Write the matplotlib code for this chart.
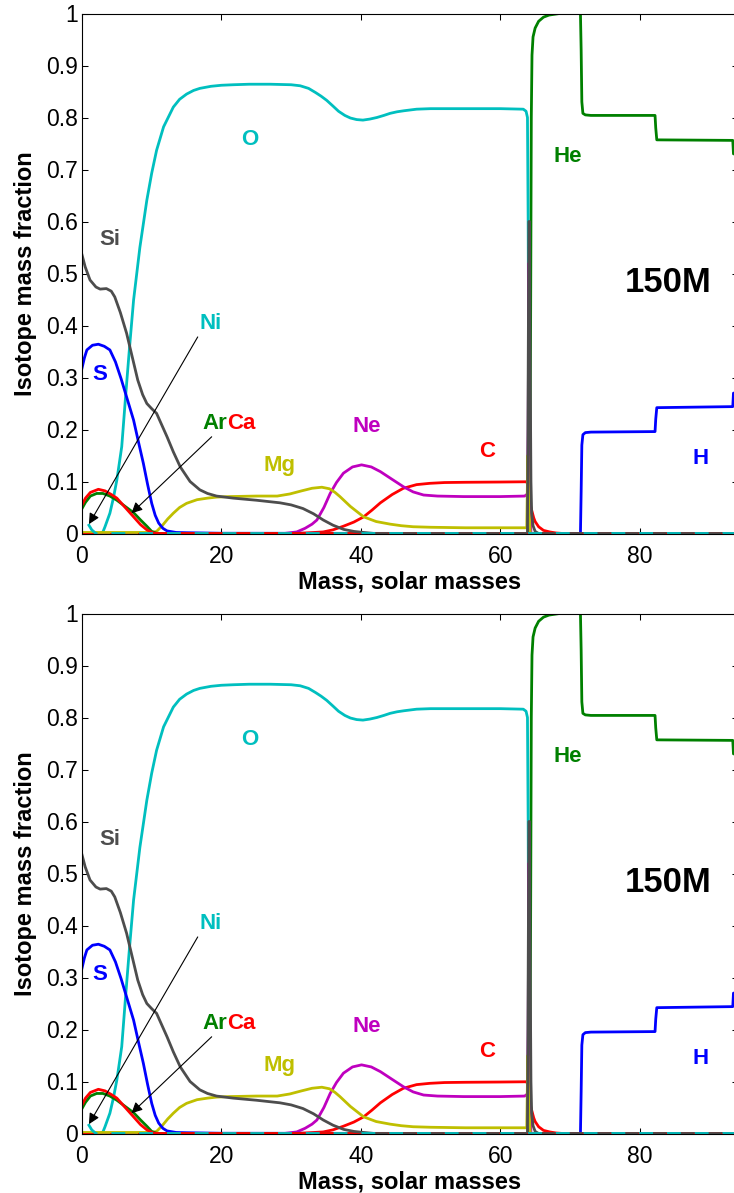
import matplotlib
matplotlib.use("Agg")
import matplotlib.pyplot as plt

plt.rcParams["font.family"] = ["Liberation Sans", "DejaVu Sans"]

# ---- composition profiles (mass coordinate in solar masses, mass fraction) ----
o_x = [0, 2.5, 3.0, 3.3, 4.0, 4.5, 5.0, 5.7, 6.25, 6.8, 7.4, 8.3, 9.3, 10.0, 10.7, 11.7,
       13.1, 14.0, 15.0, 16.0, 16.9, 18.5, 20.0, 21.7, 24.0, 27.0, 30.0, 31.3, 32.5, 33.5,
       34.3, 35.1, 36.0, 36.8, 37.7, 38.5, 39.4, 40.3, 41.3, 42.3, 43.3, 44.2, 45.2, 46.2,
       48.0, 50.0, 55.0, 60.0, 63.3, 63.7, 63.9, 64.0, 64.1, 64.2, 64.3, 94.1]
o_y = [0, 0, 0.003, 0.013, 0.039, 0.068, 0.103, 0.167, 0.263, 0.355, 0.449, 0.55, 0.641,
       0.693, 0.737, 0.782, 0.82, 0.835, 0.845, 0.852, 0.856, 0.860, 0.862, 0.863, 0.864,
       0.864, 0.863, 0.861, 0.856, 0.848, 0.841, 0.833, 0.822, 0.812, 0.804, 0.799, 0.796,
       0.795, 0.797, 0.800, 0.804, 0.808, 0.811, 0.813, 0.816, 0.817, 0.817, 0.817, 0.816,
       0.812, 0.80, 0.60, 0.25, 0.05, 0.0, 0.0]

he_x = [0, 64.2, 64.35, 64.45, 64.55, 64.7, 65.0, 65.5, 66.2, 67.0, 68.5, 71.5, 71.6,
        71.7, 71.85, 72.2, 73.0, 82.2, 82.3, 82.45, 93.35, 93.45, 94.1]
he_y = [0, 0, 0.4, 0.8, 0.92, 0.955, 0.972, 0.985, 0.993, 0.997, 1.0, 1.0, 0.93, 0.83,
        0.808, 0.805, 0.804, 0.804, 0.78, 0.757, 0.756, 0.73, 0.73]

h_x = [0, 71.5, 71.6, 71.7, 71.85, 72.2, 73.0, 82.2, 82.3, 82.45, 93.35, 93.45, 94.1]
h_y = [0, 0, 0.08, 0.17, 0.19, 0.194, 0.195, 0.196, 0.22, 0.242, 0.244, 0.27, 0.27]

c_x = [0, 30.0, 32.0, 34.6, 36.0, 37.5, 39.0, 40.4, 41.6, 42.8, 44.5, 46.1, 48.0, 49.9,
       52.0, 55.0, 60.0, 63.8, 64.0, 64.15, 64.3, 64.5, 64.8, 65.0, 65.5, 66.2, 67.1, 68.0,
       69.0, 94.1]
c_y = [0, 0, 0.001, 0.003, 0.007, 0.014, 0.022, 0.032, 0.045, 0.059, 0.075, 0.087, 0.094,
       0.0965, 0.098, 0.0985, 0.099, 0.0995, 0.09, 0.07, 0.055, 0.045, 0.03, 0.023, 0.013,
       0.006, 0.003, 0.001, 0, 0]

ne_x = [0, 29.0, 30.8, 32.0, 33.0, 33.7, 34.7, 35.6, 36.5, 37.5, 38.8, 40.1, 41.5, 42.8,
        44.5, 46.1, 47.5, 49.0, 51.0, 54.7, 60.0, 63.5, 63.9, 64.0, 64.1, 64.2, 64.3, 64.4,
        94.1]
ne_y = [0, 0, 0.003, 0.01, 0.018, 0.026, 0.05, 0.077, 0.098, 0.116, 0.128, 0.132, 0.128,
        0.119, 0.104, 0.09, 0.08, 0.074, 0.072, 0.071, 0.071, 0.072, 0.076, 0.2, 0.52, 0.3,
        0.05, 0, 0]

mg_x = [0, 10.0, 10.7, 11.5, 12.3, 13.1, 14.0, 15.0, 16.5, 18.0, 19.3, 21.2, 25.0, 28.0,
        29.8, 31.5, 33.0, 34.4, 35.5, 36.3, 37.0, 38.5, 40.4, 42.2, 44.2, 45.8, 47.5, 50.0,
        55.0, 63.8, 63.95, 64.1, 64.3, 94.1]
mg_y = [0.002, 0.002, 0.004, 0.015, 0.028, 0.039, 0.05, 0.058, 0.065, 0.068, 0.070, 0.071,
        0.072, 0.072, 0.076, 0.082, 0.087, 0.089, 0.086, 0.079, 0.071, 0.052, 0.032, 0.023,
        0.018, 0.015, 0.013, 0.012, 0.011, 0.011, 0.15, 0.05, 0, 0]

si_x = [0, 0.45, 1.15, 2.0, 2.6, 3.5, 4.2, 4.7, 5.5, 6.4, 7.2, 8.0, 8.7, 9.3, 10.0, 10.7,
        11.4, 12.2, 13.1, 14.1, 15.5, 16.9, 18.0, 19.3, 21.7, 25.0, 28.4, 30.0, 31.7, 33.2,
        34.6, 36.0, 37.5, 39.0, 40.4, 42.0, 63.9, 64.0, 64.1, 64.2, 64.3, 64.4, 64.5, 64.7,
        65.0, 65.5, 94.1]
si_y = [0.536, 0.513, 0.4875, 0.474, 0.470, 0.471, 0.466, 0.455, 0.425, 0.385, 0.34, 0.295,
        0.267, 0.25, 0.24, 0.231, 0.21, 0.186, 0.157, 0.128, 0.10, 0.084, 0.077, 0.072,
        0.068, 0.064, 0.059, 0.055, 0.048, 0.038, 0.026, 0.016, 0.008, 0.004, 0.002, 0, 0,
        0.3, 0.6, 0.6, 0.3, 0.1, 0.04, 0.015, 0.004, 0, 0]

s_x = [0, 0.35, 0.7, 1.5, 2.35, 3.2, 4.0, 4.8, 5.6, 6.5, 7.4, 8.1, 8.8, 9.4, 10.0, 10.5,
       11.0, 11.6, 12.2, 13.5, 15.0, 20.0, 64.0, 94.1]
s_y = [0.318, 0.338, 0.353, 0.362, 0.364, 0.360, 0.353, 0.33, 0.298, 0.258, 0.218, 0.176,
       0.135, 0.095, 0.058, 0.035, 0.02, 0.01, 0.005, 0.002, 0.0015, 0.0005, 0, 0]

ar_x = [0, 0.5, 1.2, 2.1, 3.0, 4.0, 5.0, 6.2, 7.4, 8.4, 9.3, 10.0, 10.8, 94.1]
ar_y = [0.048, 0.06, 0.072, 0.077, 0.077, 0.072, 0.064, 0.052, 0.040, 0.026, 0.014, 0.004,
        0, 0]

ca_x = [0, 0.5, 1.2, 2.35, 3.3, 4.2, 5.0, 6.2, 7.4, 8.4, 9.3, 10.2, 11.0, 94.1]
ca_y = [0.055, 0.068, 0.079, 0.085, 0.082, 0.075, 0.068, 0.050, 0.032, 0.017, 0.007, 0.001,
        0, 0]

ni_x = [0, 0.67, 1.4, 2.0, 94.1]
ni_y = [0.042, 0.023, 0.007, 0, 0]

trace_x = [0, 94.1]
trace_y = [0, 0]

# species label texts and their positions (x, y)
label_text = ["O", "Si", "S", "Ni", "Mg", "Ne", "C", "He", "H"]
label_pos = [(24.0, 0.757), (4.0, 0.566), (2.6, 0.306), (18.5, 0.404), (28.3, 0.130),
             (40.9, 0.205), (58.1, 0.157), (69.7, 0.725), (88.8, 0.145)]

x_ticks = [0, 20, 40, 60, 80]
y_ticks = [0, 0.1, 0.2, 0.3, 0.4, 0.5, 0.6, 0.7, 0.8, 0.9, 1.0]
y_tick_labels = ["0", "0.1", "0.2", "0.3", "0.4", "0.5", "0.6", "0.7", "0.8", "0.9", "1"]

CYAN = "#00bfbf"
GREEN = "#008000"
BLUE = "#0000ff"
RED = "#ff0000"
MAGENTA = "#bf00bf"
OLIVE = "#bfbf00"
GRAY = "#4d4d4d"
LW = 2.0

label_color = {"O": CYAN, "Si": GRAY, "S": BLUE, "Ni": CYAN, "Mg": OLIVE,
               "Ne": MAGENTA, "C": RED, "He": GREEN, "H": BLUE}


def draw_panel(ax):
    ax.plot(he_x, he_y, color=GREEN, lw=LW)
    ax.plot(h_x, h_y, color=BLUE, lw=LW)
    ax.plot(o_x, o_y, color=CYAN, lw=LW)
    ax.plot(c_x, c_y, color=RED, lw=LW)
    ax.plot(ne_x, ne_y, color=MAGENTA, lw=LW)
    ax.plot(mg_x, mg_y, color=OLIVE, lw=LW)
    ax.plot(s_x, s_y, color=BLUE, lw=LW)
    ax.plot(ar_x, ar_y, color=GREEN, lw=LW)
    ax.plot(ca_x, ca_y, color=RED, lw=LW)
    ax.plot(si_x, si_y, color=GRAY, lw=LW)
    # dashed traces along zero, offset so red and cyan dashes alternate
    ax.plot(trace_x, trace_y, color=RED, lw=LW, linestyle=(0, (5, 5)))
    ax.plot(ni_x, ni_y, color=CYAN, lw=LW, linestyle=(5, (5, 5)))

    for txt, (x, y) in zip(label_text, label_pos):
        ax.text(x, y, txt, color=label_color[txt], fontsize=16, fontweight="bold",
                ha="center", va="center")
    ax.text(20.76, 0.212, "Ar", color=GREEN, fontsize=16, fontweight="bold",
            ha="right", va="center")
    ax.text(20.76, 0.212, "Ca", color=RED, fontsize=16, fontweight="bold",
            ha="left", va="center")
    ax.text(84.1, 0.482, "150M", color="black", fontsize=25, fontweight="bold",
            ha="center", va="center")

    arrow = dict(arrowstyle="-|>", color="black", lw=0.8, mutation_scale=16,
                 shrinkA=0, shrinkB=0)
    ax.annotate("", xy=(1.0, 0.018), xytext=(16.6, 0.378), arrowprops=arrow)
    ax.annotate("", xy=(7.1, 0.039), xytext=(18.6, 0.186), arrowprops=arrow)

    ax.set_xlim(0, 94.1)
    ax.set_ylim(0, 1)
    ax.set_xticks(x_ticks)
    ax.set_xticklabels([str(t) for t in x_ticks])
    ax.set_yticks(y_ticks)
    ax.set_yticklabels(y_tick_labels)
    ax.tick_params(direction="in", length=4.3, width=0.75, top=True, right=True,
                   labelsize=16.5)
    ax.tick_params(axis="x", pad=8.0)
    ax.tick_params(axis="y", pad=3.2)
    for sp in ax.spines.values():
        sp.set_linewidth(0.8)
    ax.set_xlabel("Mass, solar masses", fontsize=17, fontweight="bold")
    ax.xaxis.set_label_coords(0.5, -0.072)
    ax.set_ylabel("Isotope mass fraction", fontsize=17, fontweight="bold")
    ax.yaxis.set_label_coords(-0.068, 0.5)


W, H = 734, 1193
fig = plt.figure(figsize=(W / 100, H / 100), dpi=100)
left = 82 / W
width = 656 / W
height = 520 / H
for y0 in (533.5, 1133.5):
    ax = fig.add_axes([left, (H - y0) / H, width, height])
    draw_panel(ax)

fig.savefig("out.png", dpi=100)
